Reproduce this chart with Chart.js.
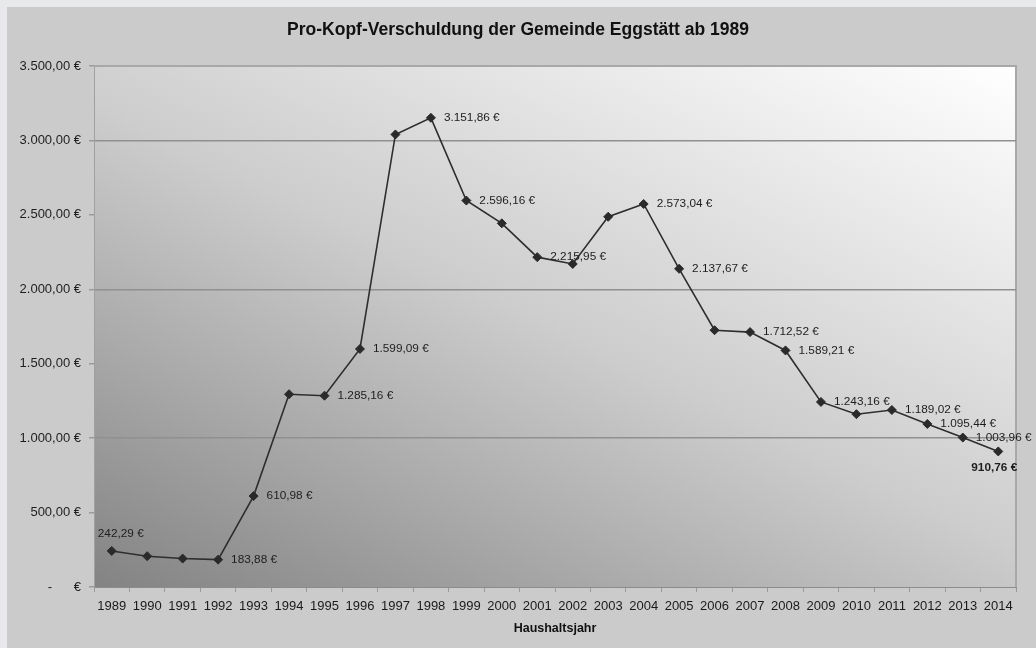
<!DOCTYPE html>
<html><head><meta charset="utf-8">
<script src="https://cdn.jsdelivr.net/npm/chart.js@4.4.1/dist/chart.umd.min.js"></script>
<style>html,body{margin:0;padding:0;background:#e8e9eb;overflow:hidden}#wrap{width:1036px;height:648px;position:relative}canvas{display:block}</style>
</head><body><div id="wrap"><canvas id="c" width="1036" height="648"></canvas></div>
<script>
// ---- data ----
const chartTitle = 'Pro-Kopf-Verschuldung der Gemeinde Eggstätt ab 1989';
const xAxisTitle = 'Haushaltsjahr';
const years = [1989,1990,1991,1992,1993,1994,1995,1996,1997,1998,1999,2000,2001,2002,2003,2004,2005,2006,2007,2008,2009,2010,2011,2012,2013,2014];
const debtPerCapita = [242.29,207,191,183.88,610.98,1295,1285.16,1599.09,3040,3151.86,2596.16,2443,2215.95,2170,2487,2573.04,2137.67,1725,1712.52,1589.21,1243.16,1161,1189.02,1095.44,1003.96,910.76];
const labeledYears = [1989,1992,1993,1995,1996,1998,1999,2001,2004,2005,2007,2008,2009,2011,2012,2013,2014];
const yMin = 0, yMax = 3500, yStep = 500, yGridStep = 1000;

// ---- style ----
const FONT = 'Liberation Sans, Arial, sans-serif';
const labelPlacement = {
  1989: {dx: 9, dy: -17, align: 'center', bold: false},
  2014: {dx: -4, dy: 16, align: 'center', bold: true}
};
const defaultPlacement = {dx: 13, dy: 0, align: 'left', bold: false};

function fmtEuro(v){
  if (v === 0) return '-      €';
  const s = Math.abs(v).toFixed(2).split('.');
  const intPart = s[0].replace(/\B(?=(\d{3})+(?!\d))/g, '.');
  return (v < 0 ? '-' : '') + intPart + ',' + s[1] + ' €';
}

const backgroundPlugin = {
  id: 'bg',
  beforeDraw(chart){
    const {ctx, chartArea: a} = chart;
    ctx.save();
    ctx.fillStyle = '#e8e9eb';
    ctx.fillRect(0, 0, chart.width, chart.height);
    ctx.fillStyle = '#cbcbcb';
    ctx.fillRect(7, 7, chart.width - 7, chart.height - 7);
    const w = a.right - a.left, h = a.bottom - a.top;
    const wa = 0.46, wb = 0.54;
    const dx = wa / w, dy = -wb / h;
    const n = dx * dx + dy * dy;
    const g = ctx.createLinearGradient(a.left, a.bottom, a.left + dx / n, a.bottom + dy / n);
    g.addColorStop(0, '#838383');
    g.addColorStop(0.5, '#cdcdcd');
    g.addColorStop(1, '#ffffff');
    ctx.fillStyle = g;
    ctx.fillRect(a.left, a.top, w, h);
    ctx.strokeStyle = '#a8a8a8';
    ctx.lineWidth = 2;
    ctx.beginPath();
    ctx.moveTo(a.left, a.top);
    ctx.lineTo(a.right, a.top);
    ctx.lineTo(a.right, a.bottom);
    ctx.stroke();
    ctx.restore();
  }
};

const labelPlugin = {
  id: 'valueLabels',
  afterDatasetsDraw(chart){
    const meta = chart.getDatasetMeta(0);
    const ctx = chart.ctx;
    ctx.save();
    ctx.fillStyle = '#1e1e1e';
    ctx.textBaseline = 'middle';
    labeledYears.forEach(yr => {
      const i = years.indexOf(yr);
      const p = meta.data[i];
      const pl = labelPlacement[yr] || defaultPlacement;
      ctx.font = (pl.bold ? 'bold ' : '') + '11.8px ' + FONT;
      ctx.textAlign = pl.align;
      ctx.fillText(fmtEuro(debtPerCapita[i]), p.x + pl.dx, p.y + pl.dy);
    });
    ctx.restore();
  }
};

new Chart(document.getElementById('c'), {
  type: 'line',
  data: {
    labels: years.map(String),
    datasets: [{
      data: debtPerCapita,
      borderColor: '#2e2e2e',
      borderWidth: 1.6,
      pointStyle: 'rectRot',
      pointRadius: 4.5,
      pointBackgroundColor: '#2a2a2a',
      pointBorderColor: '#2a2a2a',
      pointBorderWidth: 1,
      tension: 0,
      fill: false
    }]
  },
  options: {
    responsive: false,
    animation: false,
    devicePixelRatio: 1,
    layout: {padding: {left: 0, right: 0, top: 0, bottom: 0}},
    plugins: {
      legend: {display: false},
      tooltip: {enabled: false},
      title: {
        display: true,
        text: chartTitle,
        color: '#111',
        font: {family: FONT, size: 17.5, weight: 'bold'},
        padding: {top: 20, bottom: 25}
      }
    },
    scales: {
      x: {
        type: 'category',
        offset: true,
        grid: {display: true, offset: true, drawOnChartArea: false, tickLength: 5, tickColor: '#9a9a9a', lineWidth: 1},
        border: {display: true, color: '#8c8c8c', width: 1},
        ticks: {color: '#1a1a1a', font: {family: FONT, size: 13}, padding: 7, maxRotation: 0, autoSkip: false},
        title: {display: true, text: xAxisTitle, color: '#111', font: {family: FONT, size: 12.5, weight: 'bold'}, padding: {top: 2, bottom: 12}},
        afterFit(s){ s.height = 61; }
      },
      y: {
        type: 'linear',
        min: yMin, max: yMax,
        grid: {
          drawOnChartArea: true,
          color: c => (c.tick && c.tick.value % yGridStep === 0 && c.tick.value > yMin && c.tick.value < yMax) ? '#909090' : 'rgba(0,0,0,0)',
          tickColor: '#9a9a9a',
          tickLength: 5,
          lineWidth: 1.5
        },
        border: {display: true, color: '#a0a0a0', width: 1},
        ticks: {stepSize: yStep, color: '#1e1e1e', font: {family: FONT, size: 13}, padding: 8, callback: v => fmtEuro(v)},
        afterFit(s){ s.width = 94; }
      },
      yRight: {
        type: 'linear',
        position: 'right',
        display: true,
        grid: {display: false, drawOnChartArea: false},
        border: {display: false},
        ticks: {display: false},
        afterFit(s){ s.width = 20; }
      }
    }
  },
  plugins: [backgroundPlugin, labelPlugin]
});
</script>
</body></html>
